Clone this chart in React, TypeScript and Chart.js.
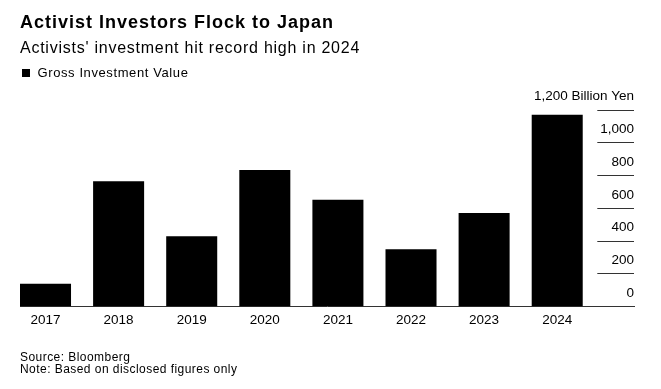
import React, { useEffect, useRef } from 'react';
import { Chart, registerables } from 'chart.js';

Chart.register(...registerables);

// ---- data ----
const years = ['2017', '2018', '2019', '2020', '2021', '2022', '2023', '2024'];
const grossInvestment = [140, 765, 430, 834, 652, 351, 571, 1171];
const yTickValues = [0, 200, 400, 600, 800, 1000, 1200];
const unitLabel = 'Billion Yen';

const title = 'Activist Investors Flock to Japan';
const subtitle = "Activists' investment hit record high in 2024";
const seriesName = 'Gross Investment Value';
const footerLines = ['Source: Bloomberg', 'Note: Based on disclosed figures only'];

const FONT = '"Liberation Sans", Arial, Helvetica, sans-serif';

// x scale: bars flush with left edge, pixels per category ~73.1
const X_MIN = -0.349;
const X_MAX = -0.349 + 614 / 73.1;

export default function App() {
  const ref = useRef<HTMLCanvasElement | null>(null);

  useEffect(() => {
    if (!ref.current) return;
    const chart = new Chart(ref.current, {
      type: 'bar',
      data: {
        datasets: [
          {
            label: seriesName,
            data: years.map((_, i) => ({ x: i, y: grossInvestment[i] })),
            backgroundColor: '#000',
            borderWidth: 0,
            barPercentage: 0.698,
            categoryPercentage: 1,
          },
        ],
      },
      options: {
        responsive: false,
        animation: false,
        events: [],
        layout: { padding: { left: 20, right: 27, top: 110, bottom: 0 } },
        plugins: {
          legend: { display: false },
          tooltip: { enabled: false },
          title: { display: false },
        },
        scales: {
          x: {
            type: 'linear',
            min: X_MIN,
            max: X_MAX,
            offset: false,
            grid: { display: false, drawTicks: false },
            border: { display: true, color: '#333', width: 1 },
            afterBuildTicks: (s: any) => {
              s.ticks = years.map((_, i) => ({ value: i }));
            },
            ticks: {
              autoSkip: false,
              maxRotation: 0,
              padding: 5.5,
              color: '#000',
              font: { family: FONT, size: 13.5 },
              callback: (v: any) => years[Math.round(Number(v))] ?? '',
            },
            afterFit: (s: any) => {
              s.height = 389 - 306.7;
            },
          },
          y: {
            position: 'right',
            min: 0,
            max: 1200,
            afterBuildTicks: (s: any) => {
              s.ticks = yTickValues.map((v) => ({ value: v }));
            },
            ticks: {
              mirror: true,
              crossAlign: 'near',
              labelOffset: -13.5,
              padding: 0,
              color: '#000',
              font: { family: FONT, size: 13.5 },
              callback: (v: any) => {
                const n = Number(v);
                const s = n.toLocaleString('en-US');
                return n === yTickValues[yTickValues.length - 1] ? `${s} ${unitLabel}` : s;
              },
            },
            grid: {
              drawOnChartArea: true,
              drawTicks: false,
              color: (ctx: any) => (ctx.tick && ctx.tick.value === 0 ? 'rgba(0,0,0,0)' : '#333'),
              lineWidth: 1,
            },
            border: { display: false, dash: [0, 577.3, 1000] },
            afterFit: (s: any) => {
              s.width = 0;
            },
          },
        },
      } as any,
    });
    return () => chart.destroy();
  }, []);

  return (
    <div
      style={{
        position: 'fixed',
        left: 0,
        top: 0,
        width: 661,
        height: 389,
        background: '#fff',
        fontFamily: FONT,
        color: '#000',
        overflow: 'hidden',
      }}
    >
      <canvas
        ref={ref}
        width={661}
        height={389}
        style={{ position: 'absolute', left: 0, top: 0, width: 661, height: 389 }}
      />
      <div
        style={{
          position: 'absolute',
          left: 20,
          top: 12.5,
          fontSize: 18,
          lineHeight: '18px',
          fontWeight: 700,
          letterSpacing: '1px',
          whiteSpace: 'nowrap',
        }}
      >
        {title}
      </div>
      <div
        style={{
          position: 'absolute',
          left: 20,
          top: 39.8,
          fontSize: 16,
          lineHeight: '16px',
          letterSpacing: '0.75px',
          whiteSpace: 'nowrap',
        }}
      >
        {subtitle}
      </div>
      <div
        style={{
          position: 'absolute',
          left: 22,
          top: 69,
          width: 8,
          height: 8,
          background: '#000',
        }}
      />
      <div
        style={{
          position: 'absolute',
          left: 37.5,
          top: 66.3,
          fontSize: 13,
          lineHeight: '13px',
          letterSpacing: '0.6px',
          whiteSpace: 'nowrap',
        }}
      >
        {seriesName}
      </div>
      <div
        style={{
          position: 'absolute',
          left: 20,
          top: 350.5,
          fontSize: 12,
          lineHeight: '12.7px',
          letterSpacing: '0.45px',
          whiteSpace: 'nowrap',
        }}
      >
        {footerLines.map((l) => (
          <div key={l}>{l}</div>
        ))}
      </div>
    </div>
  );
}
